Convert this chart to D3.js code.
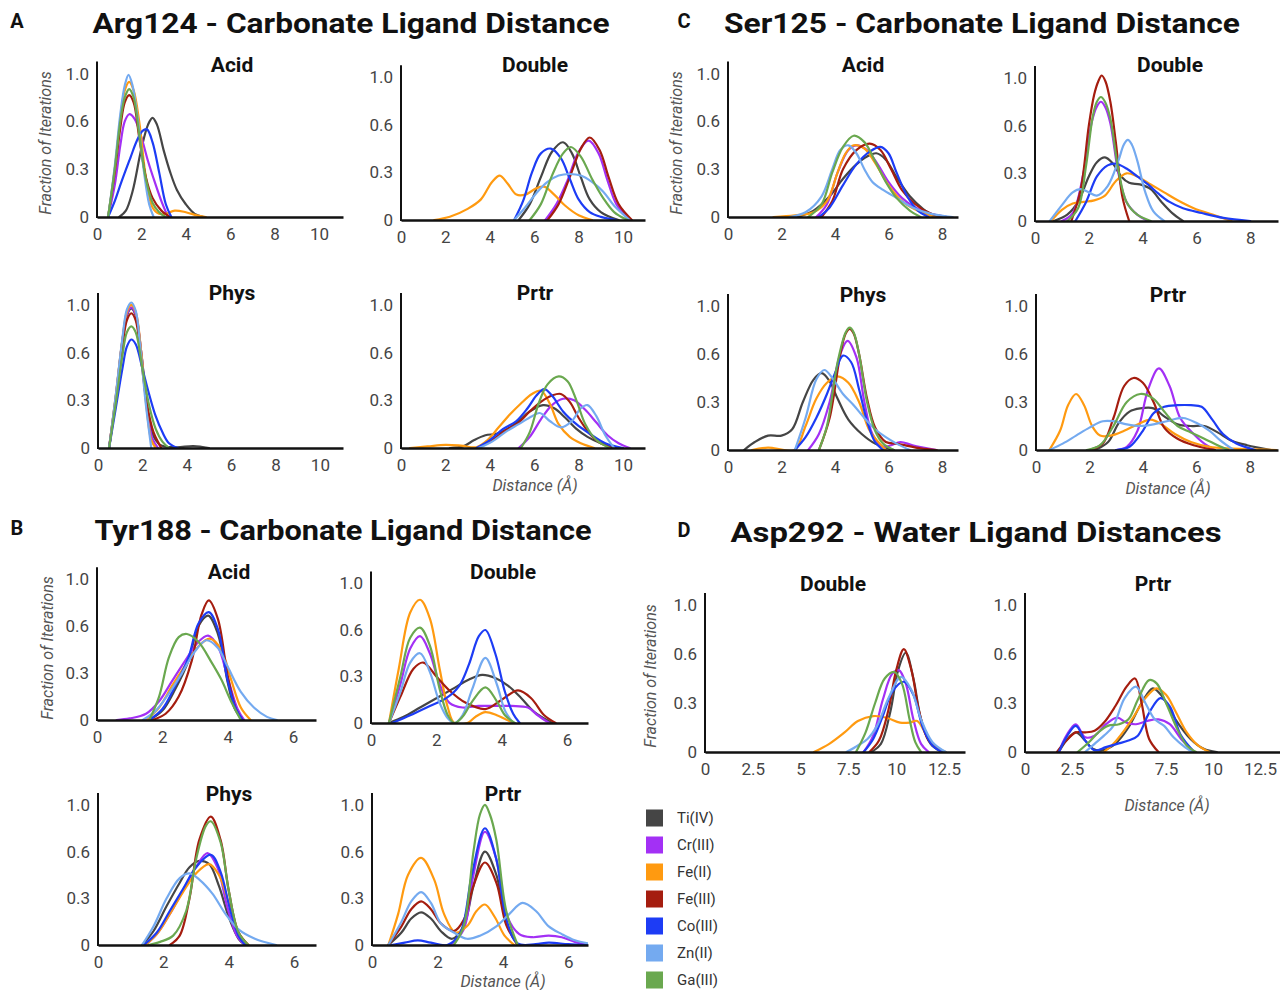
<!DOCTYPE html>
<html><head><meta charset="utf-8">
<script src="https://cdn.jsdelivr.net/npm/d3@7"></script>
<style>body{margin:0;background:#fff}svg{display:block}</style>
</head><body><svg id="c" width="1280" height="990"></svg>
<script>
// ---------- categories / legend ----------
const metals = ["Ti(IV)","Cr(III)","Fe(II)","Fe(III)","Co(III)","Zn(II)","Ga(III)"];
const metalColors = ["#454545","#a330f5","#ff9a10","#a51d0f","#1d3cf5","#74aaf0","#6aa84f"];
// ---------- tick labels ----------
const yTicks = [0, 0.3, 0.6, 1.0];
const yTickLabels = ["0","0.3","0.6","1.0"];
const xTicksA = [0,2,4,6,8,10];
const xTicksC = [0,2,4,6,8];
const xTicksB = [0,2,4,6];
const xTicksD = [0,2.5,5,7.5,10,12.5];
const sectionTitles = ["Arg124 - Carbonate Ligand Distance","Ser125 - Carbonate Ligand Distance","Tyr188 - Carbonate Ligand Distance","Asp292 - Water Ligand Distances"];
const sectionLetters = ["A","C","B","D"];

// ---------- series: order Ti, Cr, Fe(II), Fe(III), Co, Zn, Ga ----------
const argAcid = [
 [[1.0,0],[1.3,0.04],[1.6,0.16],[2.0,0.43],[2.3,0.58],[2.5,0.63],[2.7,0.58],[3.0,0.42],[3.3,0.28],[3.6,0.17],[4.0,0.08],[4.4,0.02],[4.8,0]],
 [[0.5,0],[0.8,0.2],[1.05,0.45],[1.25,0.6],[1.45,0.66],[1.7,0.62],[2.0,0.5],[2.3,0.35],[2.6,0.22],[2.9,0.1],[3.2,0]],
 [[0.5,0],[0.8,0.3],[1.05,0.62],[1.25,0.86],[1.45,0.93],[1.65,0.86],[1.9,0.6],[2.2,0.25],[2.5,0.06],[2.8,0.02],[3.1,0.02],[3.5,0.04],[4.0,0.03],[4.5,0.01],[4.9,0]],
 [[0.5,0],[0.8,0.28],[1.05,0.56],[1.25,0.76],[1.45,0.82],[1.65,0.76],[1.9,0.5],[2.2,0.25],[2.5,0.12],[2.9,0.04],[3.3,0]],
 [[0.5,0],[0.8,0.1],[1.1,0.22],[1.5,0.37],[1.8,0.48],[2.05,0.54],[2.25,0.55],[2.5,0.47],[2.8,0.28],[3.1,0.08],[3.35,0]],
 [[0.5,0],[0.8,0.32],[1.05,0.66],[1.25,0.9],[1.42,0.99],[1.6,0.9],[1.85,0.6],[2.1,0.3],[2.35,0.08],[2.55,0]],
 [[0.5,0],[0.8,0.3],[1.05,0.6],[1.25,0.8],[1.45,0.87],[1.65,0.8],[1.9,0.52],[2.2,0.24],[2.5,0.09],[2.8,0.03],[3.1,0]]
];
const argDouble = [
 [[5.3,0],[5.8,0.1],[6.3,0.27],[6.8,0.43],[7.3,0.49],[7.7,0.42],[8.1,0.27],[8.5,0.13],[9.0,0.05],[9.8,0]],
 [[6.5,0],[7.0,0.1],[7.5,0.25],[8.0,0.43],[8.45,0.5],[8.9,0.42],[9.3,0.25],[9.7,0.1],[10.3,0]],
 [[1.5,0],[2.2,0.02],[3.0,0.07],[3.6,0.13],[4.1,0.24],[4.45,0.28],[4.8,0.23],[5.2,0.16],[5.6,0.16],[6.1,0.2],[6.45,0.21],[6.9,0.16],[7.4,0.09],[8.0,0.03],[8.6,0]],
 [[6.6,0],[7.1,0.1],[7.6,0.27],[8.1,0.45],[8.5,0.52],[8.95,0.44],[9.35,0.27],[9.8,0.1],[10.4,0]],
 [[5.1,0],[5.5,0.12],[5.9,0.3],[6.3,0.42],[6.75,0.45],[7.2,0.39],[7.6,0.26],[8.0,0.13],[8.5,0.05],[9.0,0.02],[9.7,0]],
 [[5.1,0],[5.6,0.08],[6.1,0.17],[6.6,0.24],[7.1,0.28],[7.6,0.29],[8.1,0.28],[8.6,0.24],[9.1,0.18],[9.6,0.09],[10.3,0]],
 [[5.8,0],[6.3,0.1],[6.8,0.28],[7.3,0.42],[7.65,0.46],[8.1,0.4],[8.6,0.26],[9.1,0.14],[9.6,0.05],[10.2,0]]
];
const argPhys = [
 [[0.5,0],[0.8,0.32],[1.1,0.7],[1.3,0.91],[1.5,0.97],[1.7,0.91],[1.95,0.6],[2.2,0.28],[2.45,0.09],[2.8,0.02],[3.5,0.005],[4.3,0.012],[5.0,0]],
 [[0.5,0],[0.8,0.32],[1.1,0.7],[1.3,0.92],[1.5,0.98],[1.7,0.92],[1.95,0.6],[2.2,0.26],[2.45,0.06],[2.7,0]],
 [[0.5,0],[0.8,0.33],[1.1,0.71],[1.3,0.94],[1.5,1.0],[1.7,0.94],[1.95,0.6],[2.2,0.24],[2.4,0.05],[2.6,0]],
 [[0.5,0],[0.8,0.3],[1.1,0.65],[1.3,0.87],[1.5,0.93],[1.7,0.87],[1.95,0.55],[2.2,0.28],[2.5,0.1],[2.85,0]],
 [[0.5,0],[0.8,0.25],[1.1,0.5],[1.3,0.65],[1.5,0.71],[1.7,0.67],[2.0,0.5],[2.3,0.34],[2.6,0.2],[2.9,0.1],[3.2,0.03],[3.6,0]],
 [[0.5,0],[0.8,0.33],[1.1,0.72],[1.3,0.96],[1.5,1.02],[1.7,0.95],[1.9,0.65],[2.15,0.28],[2.4,0]],
 [[0.5,0],[0.8,0.28],[1.1,0.58],[1.3,0.77],[1.5,0.82],[1.7,0.77],[2.0,0.5],[2.3,0.27],[2.6,0.12],[2.9,0.04],[3.2,0]]
];
const argPrtr = [
 [[2.2,0],[2.8,0.01],[3.3,0.05],[3.8,0.08],[4.3,0.09],[4.8,0.12],[5.3,0.17],[5.8,0.23],[6.4,0.27],[6.9,0.25],[7.4,0.19],[7.9,0.12],[8.4,0.07],[9.0,0.03],[9.7,0]],
 [[5.3,0],[5.8,0.07],[6.3,0.18],[6.8,0.27],[7.3,0.31],[7.8,0.3],[8.3,0.24],[8.8,0.16],[9.3,0.08],[9.8,0.03],[10.3,0]],
 [[0.4,0],[1.2,0.01],[2.0,0.02],[2.7,0.015],[3.4,0.005],[3.9,0.05],[4.4,0.13],[4.9,0.21],[5.4,0.28],[5.9,0.34],[6.3,0.36],[6.7,0.28],[7.1,0.15],[7.6,0.07],[8.1,0.03],[8.7,0]],
 [[3.5,0],[4.1,0.05],[4.7,0.11],[5.3,0.16],[5.8,0.23],[6.3,0.29],[6.8,0.33],[7.2,0.34],[7.6,0.29],[8.0,0.19],[8.5,0.09],[9.0,0.03],[9.7,0]],
 [[3.4,0],[4.0,0.05],[4.6,0.12],[5.2,0.17],[5.7,0.25],[6.1,0.33],[6.45,0.37],[6.8,0.33],[7.3,0.23],[7.9,0.15],[8.5,0.09],[9.2,0.03],[10.0,0]],
 [[3.5,0],[4.1,0.04],[4.7,0.1],[5.3,0.15],[5.9,0.2],[6.25,0.22],[6.7,0.17],[7.2,0.13],[7.7,0.17],[8.1,0.25],[8.4,0.27],[8.8,0.2],[9.2,0.08],[9.6,0]],
 [[5.4,0],[5.8,0.1],[6.2,0.28],[6.6,0.4],[7.1,0.45],[7.5,0.42],[7.9,0.3],[8.3,0.15],[8.8,0.05],[9.4,0]]
];
const serAcid = [
 [[2.6,0],[3.2,0.04],[3.8,0.13],[4.3,0.24],[4.8,0.33],[5.2,0.38],[5.55,0.4],[5.9,0.36],[6.3,0.25],[6.8,0.13],[7.3,0.05],[7.8,0]],
 [[3.3,0],[3.7,0.08],[4.1,0.28],[4.5,0.42],[4.8,0.45],[5.2,0.42],[5.6,0.33],[6.0,0.22],[6.5,0.12],[7.0,0.06],[7.6,0.02],[8.2,0]],
 [[1.7,0],[2.5,0.01],[3.2,0.03],[3.7,0.1],[4.1,0.28],[4.4,0.4],[4.7,0.45],[5.1,0.43],[5.5,0.34],[6.0,0.2],[6.5,0.1],[7.1,0.04],[7.8,0]],
 [[3.5,0],[3.9,0.1],[4.3,0.3],[4.8,0.42],[5.3,0.46],[5.7,0.42],[6.1,0.3],[6.5,0.17],[7.0,0.08],[7.6,0.02],[8.2,0]],
 [[3.4,0],[3.8,0.06],[4.3,0.2],[4.8,0.33],[5.3,0.41],[5.7,0.44],[6.0,0.4],[6.3,0.28],[6.7,0.13],[7.1,0.04],[7.5,0]],
 [[2.3,0],[2.9,0.03],[3.5,0.13],[3.9,0.3],[4.2,0.42],[4.5,0.45],[4.8,0.4],[5.1,0.3],[5.4,0.22],[5.8,0.17],[6.3,0.12],[6.9,0.06],[7.6,0.02],[8.4,0]],
 [[3.0,0],[3.5,0.08],[3.9,0.28],[4.3,0.44],[4.7,0.51],[5.1,0.47],[5.5,0.35],[5.9,0.22],[6.3,0.12],[6.8,0.04],[7.2,0]]
];
const serDouble = [
 [[0.7,0],[1.2,0.04],[1.6,0.12],[2.0,0.28],[2.3,0.37],[2.6,0.4],[2.9,0.36],[3.2,0.28],[3.5,0.24],[3.9,0.23],[4.3,0.2],[4.7,0.12],[5.1,0.05],[5.5,0]],
 [[1.0,0],[1.4,0.05],[1.8,0.3],[2.1,0.62],[2.3,0.76],[2.45,0.8],[2.6,0.76],[2.8,0.62],[3.1,0.3],[3.4,0.12],[3.8,0.04],[4.2,0]],
 [[0.6,0],[1.0,0.07],[1.4,0.11],[1.8,0.12],[2.2,0.13],[2.6,0.16],[3.0,0.25],[3.4,0.3],[3.8,0.28],[4.3,0.23],[4.8,0.18],[5.3,0.13],[5.9,0.08],[6.6,0.04],[7.3,0]],
 [[1.35,0],[1.7,0.2],[2.0,0.6],[2.2,0.86],[2.35,0.97],[2.48,1.02],[2.62,0.97],[2.8,0.8],[3.0,0.5],[3.25,0.15],[3.5,0]],
 [[1.5,0],[1.9,0.12],[2.3,0.28],[2.7,0.35],[3.0,0.36],[3.4,0.33],[3.8,0.28],[4.2,0.23],[4.6,0.17],[5.0,0.12],[5.5,0.08],[6.2,0.05],[7.0,0.02],[8.0,0]],
 [[0.55,0],[1.0,0.1],[1.4,0.18],[1.7,0.2],[2.0,0.18],[2.3,0.16],[2.7,0.22],[3.1,0.38],[3.3,0.48],[3.45,0.51],[3.6,0.48],[3.8,0.38],[4.1,0.18],[4.4,0.06],[4.8,0]],
 [[1.2,0],[1.6,0.08],[1.9,0.35],[2.15,0.68],[2.3,0.8],[2.45,0.84],[2.6,0.8],[2.8,0.66],[3.1,0.32],[3.4,0.12],[3.8,0.04],[4.3,0]]
];
const serPhys = [
 [[0.6,0],[1.0,0.05],[1.5,0.09],[2.0,0.09],[2.4,0.13],[2.8,0.3],[3.2,0.44],[3.5,0.48],[3.8,0.43],[4.1,0.32],[4.5,0.19],[5.0,0.1],[5.5,0.04],[6.2,0]],
 [[3.0,0],[3.4,0.1],[3.8,0.3],[4.2,0.6],[4.47,0.71],[4.8,0.58],[5.1,0.3],[5.4,0.1],[5.8,0.02],[6.1,0.03],[6.45,0.05],[6.9,0.03],[7.8,0]],
 [[0.9,0],[1.5,0.015],[2.1,0],[2.5,0],[2.9,0.15],[3.3,0.32],[3.7,0.42],[4.1,0.46],[4.5,0.42],[4.9,0.3],[5.3,0.12],[5.9,0]],
 [[3.4,0],[3.8,0.2],[4.2,0.6],[4.4,0.77],[4.55,0.81],[4.7,0.77],[4.9,0.6],[5.2,0.32],[5.5,0.14],[5.9,0.05],[6.3,0.04],[6.6,0.03],[7.2,0.01],[7.8,0]],
 [[2.5,0],[2.9,0.08],[3.3,0.2],[3.7,0.35],[4.0,0.48],[4.3,0.59],[4.6,0.55],[4.9,0.38],[5.2,0.18],[5.5,0.05],[5.8,0]],
 [[2.5,0],[2.9,0.2],[3.3,0.44],[3.6,0.5],[3.9,0.45],[4.3,0.35],[4.7,0.28],[5.1,0.2],[5.5,0.13],[5.9,0.08],[6.3,0.04],[6.8,0]],
 [[3.4,0],[3.7,0.15],[4.1,0.55],[4.4,0.78],[4.55,0.82],[4.7,0.78],[4.9,0.6],[5.2,0.3],[5.5,0.12],[5.8,0.04],[6.2,0]]
];
const serPrtr = [
 [[2.2,0],[2.7,0.05],[3.1,0.17],[3.5,0.24],[3.9,0.26],[4.4,0.26],[4.8,0.21],[5.3,0.16],[5.8,0.15],[6.3,0.15],[6.8,0.11],[7.3,0.06],[7.9,0.03],[8.8,0]],
 [[3.0,0],[3.4,0.02],[3.8,0.12],[4.2,0.38],[4.6,0.51],[5.0,0.4],[5.4,0.2],[5.9,0.1],[6.3,0.04],[6.7,0]],
 [[0.5,0],[0.9,0.12],[1.2,0.28],[1.5,0.35],[1.8,0.28],[2.1,0.15],[2.4,0.09],[2.8,0.09],[3.3,0.12],[3.8,0.16],[4.3,0.19],[4.7,0.16],[5.2,0.1],[5.8,0.05],[6.5,0.02],[7.2,0.01],[9.0,0]],
 [[2.0,0],[2.5,0.04],[2.9,0.2],[3.3,0.4],[3.65,0.45],[4.0,0.42],[4.4,0.3],[4.8,0.14],[5.3,0.07],[5.9,0.03],[6.7,0]],
 [[3.0,0],[3.5,0.02],[4.0,0.12],[4.4,0.23],[4.8,0.27],[5.3,0.28],[5.8,0.28],[6.2,0.27],[6.6,0.19],[7.0,0.1],[7.5,0.04],[8.2,0]],
 [[0.5,0],[1.0,0.04],[1.5,0.09],[2.0,0.14],[2.5,0.18],[2.9,0.18],[3.4,0.16],[3.9,0.15],[4.4,0.16],[4.9,0.18],[5.5,0.2],[6.0,0.17],[6.5,0.12],[6.9,0.06],[7.4,0]],
 [[1.9,0],[2.4,0.03],[2.9,0.15],[3.4,0.3],[3.9,0.35],[4.4,0.32],[4.8,0.24],[5.3,0.15],[5.8,0.11],[6.3,0.07],[6.8,0.03],[7.2,0]]
];
const tyrAcid = [
 [[1.6,0],[2.0,0.06],[2.4,0.2],[2.8,0.38],[3.1,0.6],[3.4,0.69],[3.7,0.55],[4.0,0.24],[4.2,0.08],[4.45,0]],
 [[0.6,0],[1.0,0.01],[1.5,0.04],[1.9,0.12],[2.3,0.25],[2.7,0.38],[3.1,0.5],[3.4,0.54],[3.7,0.47],[4.0,0.27],[4.3,0.07],[4.5,0]],
 [[1.5,0],[1.9,0.08],[2.3,0.22],[2.7,0.35],[3.1,0.47],[3.45,0.52],[3.8,0.45],[4.1,0.26],[4.4,0.08],[4.7,0]],
 [[1.7,0],[2.1,0.04],[2.5,0.15],[2.9,0.38],[3.2,0.7],[3.42,0.82],[3.7,0.66],[4.0,0.28],[4.25,0.07],[4.45,0]],
 [[1.6,0],[2.0,0.07],[2.4,0.22],[2.8,0.4],[3.1,0.62],[3.42,0.72],[3.7,0.58],[4.0,0.25],[4.25,0.07],[4.45,0]],
 [[1.4,0],[1.8,0.06],[2.2,0.17],[2.6,0.3],[3.0,0.44],[3.35,0.51],[3.7,0.46],[4.0,0.34],[4.4,0.18],[4.8,0.08],[5.2,0.02],[5.5,0]],
 [[1.6,0],[1.9,0.15],[2.2,0.4],[2.5,0.53],[2.75,0.55],[3.1,0.5],[3.5,0.37],[3.8,0.26],[4.1,0.12],[4.4,0]]
];
const tyrDouble = [
 [[0.55,0],[1.0,0.04],[1.5,0.1],[2.0,0.16],[2.5,0.22],[3.0,0.28],[3.4,0.31],[3.8,0.29],[4.2,0.24],[4.6,0.16],[5.0,0.07],[5.55,0]],
 [[0.55,0],[0.9,0.25],[1.2,0.48],[1.5,0.56],[1.8,0.45],[2.1,0.25],[2.4,0.13],[2.8,0.1],[3.3,0.11],[3.8,0.11],[4.3,0.11],[4.8,0.1],[5.1,0.05],[5.45,0]],
 [[0.55,0],[0.85,0.35],[1.2,0.75],[1.5,0.86],[1.8,0.7],[2.1,0.35],[2.35,0.1],[2.55,0],[2.95,0],[3.2,0.04],[3.5,0.07],[3.85,0.05],[4.35,0]],
 [[0.55,0],[0.9,0.17],[1.3,0.35],[1.6,0.39],[2.0,0.3],[2.4,0.21],[2.9,0.13],[3.5,0.09],[4.0,0.15],[4.5,0.21],[4.9,0.16],[5.3,0.05],[5.65,0]],
 [[0.65,0],[1.2,0.05],[1.8,0.11],[2.3,0.16],[2.7,0.24],[3.0,0.38],[3.3,0.56],[3.5,0.6],[3.8,0.45],[4.1,0.2],[4.35,0.06],[4.55,0]],
 [[0.55,0],[0.9,0.2],[1.2,0.39],[1.5,0.45],[1.8,0.33],[2.1,0.13],[2.35,0.03],[2.55,0],[2.8,0.05],[3.1,0.22],[3.5,0.42],[3.85,0.25],[4.1,0.08],[4.35,0]],
 [[0.55,0],[0.9,0.3],[1.2,0.55],[1.5,0.62],[1.8,0.5],[2.1,0.22],[2.35,0.05],[2.55,0],[2.8,0.04],[3.1,0.14],[3.5,0.23],[3.85,0.14],[4.1,0.05],[4.4,0]]
];
const tyrPhys = [
 [[1.35,0],[1.7,0.09],[2.1,0.25],[2.5,0.4],[2.8,0.5],[3.1,0.54],[3.4,0.52],[3.7,0.38],[4.0,0.18],[4.3,0.04],[4.5,0]],
 [[1.45,0],[1.8,0.07],[2.2,0.2],[2.6,0.35],[3.0,0.5],[3.35,0.59],[3.65,0.5],[3.95,0.25],[4.25,0.06],[4.5,0]],
 [[1.45,0],[1.8,0.07],[2.2,0.2],[2.6,0.34],[3.0,0.46],[3.4,0.52],[3.7,0.45],[4.0,0.27],[4.3,0.08],[4.6,0]],
 [[2.2,0],[2.5,0.06],[2.8,0.3],[3.1,0.7],[3.45,0.9],[3.75,0.7],[4.0,0.35],[4.3,0.08],[4.6,0]],
 [[1.4,0],[1.8,0.08],[2.2,0.22],[2.6,0.36],[3.0,0.5],[3.45,0.58],[3.75,0.47],[4.05,0.22],[4.3,0.06],[4.5,0]],
 [[1.35,0],[1.7,0.12],[2.1,0.3],[2.5,0.43],[2.8,0.46],[3.1,0.42],[3.5,0.33],[3.9,0.2],[4.3,0.1],[4.8,0.04],[5.45,0]],
 [[1.55,0],[1.9,0.02],[2.3,0.06],[2.7,0.22],[3.0,0.55],[3.3,0.82],[3.45,0.86],[3.75,0.68],[4.0,0.35],[4.3,0.08],[4.6,0]]
];
const tyrPrtr = [
 [[0.5,0],[0.9,0.08],[1.2,0.17],[1.5,0.21],[1.8,0.17],[2.1,0.09],[2.45,0.04],[2.8,0.12],[3.1,0.38],[3.45,0.6],[3.8,0.45],[4.1,0.15],[4.45,0]],
 [[2.4,0],[2.8,0.1],[3.1,0.45],[3.45,0.77],[3.8,0.55],[4.1,0.2],[4.5,0.07],[4.9,0.05],[5.4,0.06],[5.8,0.05],[6.2,0.02],[6.6,0]],
 [[0.5,0],[0.8,0.2],[1.1,0.45],[1.5,0.56],[1.9,0.42],[2.2,0.2],[2.55,0.08],[2.9,0.12],[3.2,0.22],[3.45,0.26],[3.75,0.18],[4.05,0.06],[4.35,0]],
 [[0.5,0],[0.9,0.12],[1.2,0.23],[1.5,0.28],[1.8,0.23],[2.1,0.14],[2.5,0.09],[2.8,0.16],[3.1,0.38],[3.45,0.53],[3.8,0.4],[4.1,0.13],[4.45,0]],
 [[0.6,0],[1.0,0.015],[1.4,0.03],[1.8,0.015],[2.3,0],[2.7,0.08],[3.05,0.45],[3.45,0.8],[3.8,0.55],[4.1,0.17],[4.45,0.01],[5.0,0.005],[5.4,0.015],[6.0,0.005],[6.6,0]],
 [[0.5,0],[0.9,0.15],[1.2,0.28],[1.5,0.34],[1.8,0.27],[2.1,0.14],[2.5,0.08],[2.9,0.04],[3.3,0.06],[3.8,0.12],[4.2,0.2],[4.6,0.27],[5.0,0.22],[5.4,0.12],[5.8,0.07],[6.2,0.03],[6.6,0.01]],
 [[2.5,0],[2.8,0.12],[3.1,0.6],[3.3,0.92],[3.45,1.0],[3.6,0.92],[3.8,0.7],[4.1,0.22],[4.45,0]]
];
const aspDouble = [
 [[8.7,0],[9.2,0.05],[9.7,0.25],[10.1,0.5],[10.5,0.61],[10.9,0.45],[11.3,0.2],[11.8,0.05],[12.4,0]],
 [[8.3,0],[8.8,0.1],[9.3,0.32],[9.8,0.48],[10.15,0.5],[10.5,0.42],[10.9,0.2],[11.3,0.05],[11.7,0]],
 [[5.7,0],[6.5,0.05],[7.3,0.12],[8.0,0.19],[8.8,0.22],[9.5,0.21],[10.2,0.18],[10.7,0.18],[11.1,0.19],[11.6,0.1],[12.1,0.03],[12.6,0]],
 [[8.6,0],[9.1,0.07],[9.6,0.26],[10.0,0.5],[10.4,0.64],[10.8,0.5],[11.2,0.25],[11.7,0.07],[12.5,0]],
 [[8.3,0],[8.8,0.08],[9.3,0.22],[9.8,0.37],[10.4,0.43],[10.9,0.35],[11.4,0.15],[11.9,0.04],[12.4,0]],
 [[7.4,0],[8.0,0.04],[8.5,0.08],[9.0,0.16],[9.6,0.33],[10.25,0.46],[10.8,0.38],[11.3,0.2],[11.9,0.06],[12.6,0]],
 [[7.9,0],[8.4,0.12],[8.9,0.3],[9.4,0.45],[9.9,0.49],[10.3,0.42],[10.7,0.2],[11.0,0.06],[11.3,0]]
];
const aspPrtr = [
 [[1.8,0],[2.2,0.07],[2.7,0.12],[3.2,0.07],[3.6,0.02],[4.1,0.01],[4.8,0.05],[5.5,0.15],[6.2,0.3],[6.8,0.39],[7.3,0.34],[8.0,0.2],[8.8,0.08],[9.5,0.02],[10.2,0]],
 [[1.8,0],[2.2,0.1],[2.7,0.17],[3.2,0.09],[3.7,0.1],[4.3,0.17],[4.9,0.21],[5.4,0.18],[5.9,0.17],[6.5,0.19],[7.1,0.2],[7.7,0.17],[8.3,0.08],[9.0,0]],
 [[4.2,0],[4.7,0.05],[5.2,0.12],[5.8,0.22],[6.4,0.33],[7.0,0.39],[7.5,0.35],[8.0,0.25],[8.6,0.12],[9.2,0.04],[9.8,0]],
 [[1.7,0],[2.2,0.07],[2.7,0.12],[3.2,0.12],[3.7,0.13],[4.2,0.18],[4.8,0.28],[5.4,0.4],[5.85,0.45],[6.2,0.3],[6.6,0.08],[7.1,0]],
 [[1.8,0],[2.2,0.09],[2.7,0.16],[3.2,0.07],[3.7,0.01],[4.3,0.03],[4.9,0.05],[5.5,0.07],[6.0,0.1],[6.6,0.24],[7.2,0.33],[7.7,0.28],[8.3,0.1],[9.0,0]],
 [[3.2,0],[3.7,0.05],[4.2,0.1],[4.7,0.16],[5.3,0.33],[5.9,0.4],[6.4,0.3],[6.9,0.2],[7.4,0.16],[7.9,0.09],[8.5,0.03],[8.9,0]],
 [[2.8,0],[3.4,0.06],[3.9,0.12],[4.4,0.16],[5.0,0.17],[5.5,0.2],[6.0,0.32],[6.6,0.44],[7.0,0.42],[7.5,0.3],[8.1,0.14],[8.6,0.04],[9.1,0]]
];

// ---------- layout (positions only) ----------
const panels = [
 {data:argAcid,  title:"Acid",   x0:97,  x1:343, xMax:11.08, bottom:217, band:47.8, ticks:xTicksA, tx:232, ty:72, ylab:[45,143]},
 {data:argDouble,title:"Double", x0:401, x1:645, xMax:10.99, bottom:220, band:47.6, ticks:xTicksA, tx:535, ty:72},
 {data:argPhys,  title:"Phys",   x0:98,  x1:343, xMax:11.04, bottom:448, band:47.7, ticks:xTicksA, tx:232, ty:300},
 {data:argPrtr,  title:"Prtr",   x0:401, x1:645, xMax:10.99, bottom:448, band:47.7, ticks:xTicksA, tx:535, ty:300, xlab:[535,491]},
 {data:serAcid,  title:"Acid",   x0:728, x1:958, xMax:8.6,   bottom:217, band:47.8, ticks:xTicksC, tx:863, ty:72, ylab:[676,143]},
 {data:serDouble,title:"Double", x0:1035,x1:1278,xMax:9.03,  bottom:221, band:47.7, ticks:xTicksC, tx:1170, ty:72},
 {data:serPhys,  title:"Phys",   x0:728, x1:958, xMax:8.6,   bottom:450, band:48,   ticks:xTicksC, tx:863, ty:302},
 {data:serPrtr,  title:"Prtr",   x0:1036,x1:1278,xMax:9.06,  bottom:450, band:48,   ticks:xTicksC, tx:1168, ty:302, xlab:[1168,494]},
 {data:tyrAcid,  title:"Acid",   x0:97,  x1:316, xMax:6.7,   bottom:720, band:46.9, ticks:xTicksB, tx:229, ty:579, ylab:[47,648]},
 {data:tyrDouble,title:"Double", x0:371, x1:588, xMax:6.64,  bottom:723, band:46.5, ticks:xTicksB, tx:503, ty:579},
 {data:tyrPhys,  title:"Phys",   x0:98,  x1:316, xMax:6.67,  bottom:945, band:46.7, ticks:xTicksB, tx:229, ty:801},
 {data:tyrPrtr,  title:"Prtr",   x0:372, x1:588, xMax:6.6,   bottom:945, band:46.7, ticks:xTicksB, tx:503, ty:801, xlab:[503,987]},
 {data:aspDouble,title:"Double", x0:705, x1:965, xMax:13.6,  bottom:752, band:49,   ticks:xTicksD, tx:833, ty:591, ylab:[650,676]},
 {data:aspPrtr,  title:"Prtr",   x0:1025,x1:1280,xMax:13.56, bottom:752, band:49,   ticks:xTicksD, tx:1153, ty:591, xlab:[1167,811]}
];
const sectionPos = [{lx:17,x:351,y:33,w:517},{lx:684,x:982,y:33,w:516},{lx:17,x:343,y:540,w:497},{lx:684,x:976,y:542,w:491}];

const svg = d3.select("#c");
const FONT = "Roboto, 'Liberation Sans', Arial, sans-serif";

sectionTitles.forEach((t,i)=>{
  const p = sectionPos[i];
  svg.append("text").attr("x",p.x).attr("y",p.y).attr("text-anchor","middle")
    .attr("font-family",FONT).attr("font-weight","bold").attr("font-size",28)
    .attr("textLength",p.w).attr("lengthAdjust","spacingAndGlyphs").attr("fill","#111").text(t);
  svg.append("text").attr("x",p.lx).attr("y",p.y-5).attr("text-anchor","middle")
    .attr("font-family",FONT).attr("font-weight","bold").attr("font-size",20).attr("fill","#111").text(sectionLetters[i]);
});

const defs = svg.append("defs");
panels.forEach((p,pi)=>{
  const g = svg.append("g");
  const x = d3.scaleLinear().domain([0,p.xMax]).range([p.x0,p.x1]);
  const y = d3.scaleLinear().domain(yTicks).range(yTicks.map((_,i)=>p.bottom - i*p.band));

  defs.append("clipPath").attr("id","clip"+pi).append("rect")
    .attr("x",p.x0).attr("y",p.bottom-4*p.band).attr("width",p.x1-p.x0).attr("height",4*p.band);

  const line = d3.line().x(d=>x(d[0])).y(d=>y(d[1])).curve(d3.curveCatmullRom.alpha(0.5));
  g.append("g").attr("clip-path",`url(#clip${pi})`)
    .selectAll("path.s").data(p.data).join("path").attr("class","s")
    .attr("d",line).attr("fill","none")
    .attr("stroke",(d,i)=>metalColors[i]).attr("stroke-width",2.2)
    .attr("stroke-linejoin","round").attr("stroke-linecap","round");

  const xa = g.append("g").attr("transform",`translate(0,${p.bottom})`)
    .call(d3.axisBottom(x).tickValues(p.ticks).tickSize(0).tickPadding(11).tickFormat(d3.format("~g")));
  xa.select(".domain").attr("stroke","#111").attr("stroke-width",2.4);
  xa.selectAll("text").attr("font-family",FONT).attr("font-size",17).attr("fill","#444");

  const ya = g.append("g").attr("transform",`translate(${p.x0},0)`)
    .call(d3.axisLeft(y).tickValues(yTicks).tickSize(0).tickPadding(8).tickFormat((d,i)=>yTickLabels[i]));
  ya.select(".domain").remove();
  ya.selectAll("text").attr("font-family",FONT).attr("font-size",17).attr("fill","#444");
  g.append("line").attr("x1",p.x0).attr("x2",p.x0).attr("y1",p.bottom+1).attr("y2",y(1.0)-12)
    .attr("stroke","#111").attr("stroke-width",2);

  g.append("text").attr("x",p.tx).attr("y",p.ty).attr("text-anchor","middle")
    .attr("font-family",FONT).attr("font-weight","bold").attr("font-size",21).attr("fill","#111").text(p.title);

  if (p.ylab) {
    g.append("text").attr("transform",`translate(${p.ylab[0]},${p.ylab[1]}) rotate(-90)`)
      .attr("text-anchor","middle").attr("dominant-baseline","central")
      .attr("font-family",FONT).attr("font-style","italic").attr("font-size",16).attr("fill","#555")
      .text("Fraction of Iterations");
  }
  if (p.xlab) {
    g.append("text").attr("x",p.xlab[0]).attr("y",p.xlab[1]).attr("text-anchor","middle")
      .attr("font-family",FONT).attr("font-style","italic").attr("font-size",16).attr("fill","#555")
      .text("Distance (Å)");
  }
});

const lg = svg.append("g");
const ly = d3.scalePoint().domain(metals).range([818,980]);
metals.forEach((m,i)=>{
  lg.append("rect").attr("x",646).attr("y",ly(m)-8.5).attr("width",17).attr("height",17).attr("fill",metalColors[i]);
  lg.append("text").attr("x",677).attr("y",ly(m)).attr("dominant-baseline","central")
    .attr("font-family",FONT).attr("font-size",15).attr("fill","#333").text(m);
});
</script></body></html>
